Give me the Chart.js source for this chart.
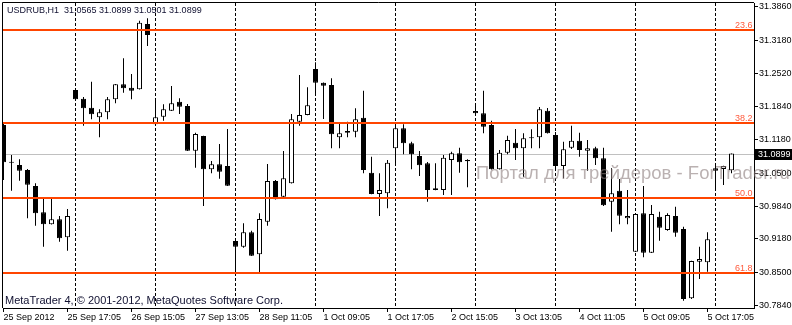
<!DOCTYPE html>
<html><head><meta charset="utf-8">
<script src="https://cdn.jsdelivr.net/npm/chart.js@4.4.0/dist/chart.umd.min.js"></script>
<style>html,body{margin:0;padding:0;background:#fff;overflow:hidden}canvas{display:block}</style>
</head><body>
<canvas id="c" width="792" height="325"></canvas>
<script>
const opens = [31.1475,31.0715,31.0668,31.0568,31.0245,30.9715,30.9473,30.9574,30.9211,31.2181,
31.2005,31.1824,31.1630,31.1731,31.1993,31.2295,31.2227,31.2195,31.3511,31.1489,
31.1642,31.1763,31.1945,31.1858,31.0957,31.1253,31.0582,31.0683,31.0648,30.9136,
30.9021,30.9312,30.8868,30.9525,31.0346,31.0029,31.0299,31.1541,31.1676,31.2604,
31.2328,31.2281,31.1227,31.1354,31.1340,31.1622,31.0513,31.0084,31.0098,31.1005,
31.1408,31.1106,31.0850,31.0703,31.0199,31.0164,31.0769,31.0904,31.0769,31.1757,
31.1711,31.1475,31.0582,31.0916,31.1118,31.1005,31.1207,31.1227,31.1763,31.1273,
31.0648,31.1017,31.1158,31.0957,31.1005,31.0804,30.9929,31.0150,30.9594,30.8920,
30.9695,30.8900,30.9626,30.9358,30.9640,30.9378,30.7981,30.8719,30.8707,31.0602,
31.0588,31.0565];
const highs = [31.1515,31.0870,31.0783,31.0588,31.0299,30.9997,30.9997,30.9640,30.9781,31.2221,
31.2039,31.2348,31.1791,31.2039,31.2301,31.2820,31.2503,31.3578,31.3626,31.1979,
31.1892,31.2261,31.2013,31.1898,31.1320,31.1258,31.0749,31.1092,31.1394,30.9197,
30.9493,30.9344,30.9695,31.0689,31.0366,31.0951,31.1697,31.2483,31.2235,31.2739,
31.2332,31.2416,31.1509,31.1541,31.1812,31.2166,31.0836,31.0501,31.0769,31.1509,
31.1489,31.1138,31.0951,31.0729,31.0703,31.0870,31.0937,31.1017,31.0783,31.1898,
31.2166,31.1562,31.0971,31.1259,31.1394,31.1308,31.1388,31.1838,31.1818,31.1334,
31.1138,31.1461,31.1320,31.1172,31.1037,31.1017,31.0602,31.0386,31.0164,30.9701,
31.0245,30.9862,30.9727,30.9695,30.9828,30.9424,30.8737,30.9021,30.9312,31.0668,
31.0654,31.0899];
const lows = [31.0366,31.0150,31.0352,30.9594,30.9445,30.9021,30.9470,30.9122,30.8941,31.1979,
31.1461,31.1590,31.1227,31.1590,31.1912,31.2126,31.1993,31.2190,31.3068,31.1485,
31.1562,31.1757,31.1697,31.0951,31.0614,30.9842,31.0501,31.0392,31.0246,30.8497,
30.9001,30.8836,30.8497,30.9445,30.9972,31.0003,31.0295,31.1461,31.1672,31.2080,
31.1596,31.1005,31.1005,31.1227,31.1227,31.0501,31.0080,30.9640,30.9795,31.0703,
31.0884,31.0582,31.0447,30.9929,31.0160,31.0064,31.0064,31.0513,31.0219,31.1656,
31.1308,31.0578,31.0578,31.0884,31.0769,31.0433,31.1005,31.1005,31.1304,31.0582,
31.0400,31.0991,31.0836,31.0554,31.0668,30.9842,30.9324,30.9473,30.9473,30.8916,
30.8808,30.8896,30.9142,30.9344,30.9223,30.7933,30.7967,30.8370,30.8517,31.0164,
31.0265,31.0501];
const closes = [31.0723,31.0715,31.0554,31.0271,30.9695,30.9473,30.9574,30.9191,30.9640,31.1993,
31.1812,31.1691,31.1731,31.1993,31.2295,31.2215,31.2166,31.3537,31.3289,31.1630,
31.1791,31.1912,31.1844,31.0957,31.1293,31.0582,31.0683,31.0533,31.0251,30.9021,
30.9312,30.8840,30.9580,31.0346,30.9977,31.0400,31.1590,31.1676,31.1872,31.2328,
31.2267,31.1287,31.1308,31.1320,31.1590,31.0568,31.0084,31.0164,31.0715,31.1408,
31.1106,31.0884,31.0662,31.0164,31.0164,31.0816,31.0904,31.0723,31.0743,31.1711,
31.1441,31.0582,31.0916,31.1172,31.1005,31.1207,31.1209,31.1791,31.1308,31.0648,
31.0985,31.1158,31.0971,31.1005,31.0804,30.9856,31.0098,30.9646,30.9640,30.9681,
30.8900,30.9681,30.9404,30.9660,30.9304,30.7967,30.8733,30.8773,30.9170,31.0554,
31.0648,31.0899];

const tickBars = [0,8,16,24,32,40,48,56,64,72,80,88];
const tickLabels = ['25 Sep 2012','25 Sep 17:05','26 Sep 15:05','27 Sep 13:05','28 Sep 11:05','1 Oct 09:05',
  '1 Oct 17:05','2 Oct 15:05','3 Oct 13:05','4 Oct 11:05','5 Oct 09:05','5 Oct 17:05'];
const yTickValues = [31.386,31.318,31.252,31.184,31.118,31.050,30.984,30.918,30.850,30.784];
const fibValues = [31.3396,31.1525,31.0013,30.8500];
const fibLabels = ['23.6','38.2','50.0','61.8'];
const separatorBars = [9,19,29,39,49,59,69,79,89];
const lastPrice = 31.0899;
const titleText = 'USDRUB,H1  31.0565 31.0899 31.0501 31.0899';
const copyrightText = 'MetaTrader 4, \u00a9 2001-2012, MetaQuotes Software Corp.';
const watermarkText = 'Портал для трейдеров - ForTrader.ru';

const FONT = 'Liberation Sans';
Chart.defaults.font.family = FONT;

const bodyColors = opens.map((o, i) => closes[i] > o ? '#ffffff' : '#000000');

const overlay = {
  id: 'overlay',
  beforeDatasetsDraw(chart) {
    const {ctx, chartArea: a, scales: {x, y}} = chart;
    ctx.save();
    const py = Math.round(y.getPixelForValue(lastPrice)) + 0.5;
    ctx.strokeStyle = '#c0c0c0'; ctx.lineWidth = 1;
    ctx.beginPath(); ctx.moveTo(a.left, py); ctx.lineTo(a.right, py); ctx.stroke();
    ctx.strokeStyle = '#000'; ctx.setLineDash([3, 2]);
    separatorBars.forEach(b => {
      const px = Math.floor(x.getPixelForValue(b)) + 0.5;
      ctx.beginPath(); ctx.moveTo(px, a.top); ctx.lineTo(px, a.bottom); ctx.stroke();
    });
    ctx.restore();
  },
  afterDatasetsDraw(chart) {
    const {ctx, chartArea: a, scales: {y}} = chart;
    ctx.save();
    ctx.beginPath(); ctx.rect(a.left, a.top, a.right - a.left, a.bottom - a.top); ctx.clip();
    ctx.strokeStyle = '#ff4500'; ctx.lineWidth = 2;
    ctx.font = '9px ' + FONT; ctx.fillStyle = '#ff5a3c';
    ctx.textAlign = 'right'; ctx.textBaseline = 'alphabetic';
    fibValues.forEach((v, i) => {
      const py = Math.round(y.getPixelForValue(v));
      ctx.beginPath(); ctx.moveTo(a.left, py); ctx.lineTo(a.right, py); ctx.stroke();
      ctx.fillText(fibLabels[i], a.right - 1.5, py - 2);
    });
    ctx.restore();
    ctx.save();
    ctx.strokeStyle = '#000'; ctx.lineWidth = 1;
    ctx.beginPath();
    ctx.moveTo(a.left - 0.5, a.bottom); ctx.lineTo(a.left - 0.5, a.top - 0.5); ctx.lineTo(a.right, a.top - 0.5);
    ctx.stroke();
    ctx.fillStyle = '#101030';
    ctx.font = '9px ' + FONT; ctx.textAlign = 'left'; ctx.textBaseline = 'middle';
    ctx.fillText(titleText, 7, 11);
    ctx.font = '11px ' + FONT; ctx.textBaseline = 'alphabetic';
    ctx.fillText(copyrightText, 5, 304);
    ctx.restore();
  },
  afterDraw(chart) {
    const {ctx, chartArea: a, scales: {y}} = chart;
    ctx.save();
    const py = Math.round(y.getPixelForValue(lastPrice));
    ctx.fillStyle = '#000';
    ctx.fillRect(a.right + 1, py - 5, chart.width - a.right - 1, 11);
    ctx.fillStyle = '#fff'; ctx.font = '9px ' + FONT;
    ctx.textAlign = 'left'; ctx.textBaseline = 'middle';
    ctx.fillText(lastPrice.toFixed(4), a.right + 4, py + 0.5);
    ctx.font = '16px ' + FONT;
    const w = ctx.measureText(watermarkText).width;
    const size = 16 * 314 / w;
    ctx.font = size.toFixed(2) + 'px ' + FONT;
    ctx.fillStyle = 'rgba(140,125,125,0.6)';
    ctx.textBaseline = 'alphabetic';
    ctx.fillText(watermarkText, 476, 179);
    ctx.restore();
  }
};

new Chart(document.getElementById('c'), {
  type: 'bar',
  data: {
    datasets: [
      { label: 'body', data: opens.map((o, i) => ({x: i, y: [o, closes[i]]})),
        backgroundColor: bodyColors, borderColor: '#000', borderWidth: 1, borderSkipped: false,
        grouped: false, barThickness: 5, maxBarThickness: 5, inflateAmount: 0, minBarLength: 1 },
      { label: 'wick', data: opens.map((o, i) => ({x: i, y: [lows[i], highs[i]]})),
        backgroundColor: '#000', borderWidth: 0, grouped: false,
        barThickness: 1, maxBarThickness: 1, inflateAmount: 0, minBarLength: 1 }
    ]
  },
  options: {
    responsive: false, animation: false, devicePixelRatio: 1, events: [],
    layout: { padding: { left: 3, top: 3, right: 0, bottom: 0 } },
    plugins: { legend: { display: false }, tooltip: { enabled: false } },
    scales: {
      x: {
        type: 'linear', min: -0.0625, max: 93.8125, offset: false,
        afterBuildTicks: s => { s.ticks = tickBars.map(v => ({value: v})); },
        afterFit: s => { s.height = 17; s.paddingLeft = 0; s.paddingRight = 0; },
        ticks: { autoSkip: false, maxRotation: 0, minRotation: 0, align: 'start', padding: 0,
          color: '#000', font: { family: FONT, size: 9 },
          callback: (v, i) => tickLabels[i] },
        grid: { offset: false, drawOnChartArea: false, drawTicks: true, tickLength: 4, color: '#000' },
        border: { display: true, color: '#000', width: 1 }
      },
      y: {
        type: 'linear', position: 'right', min: 30.7785, max: 31.3935,
        afterBuildTicks: s => { s.ticks = yTickValues.map(v => ({value: v})); },
        afterFit: s => { s.width = 38; s.paddingTop = 0; s.paddingBottom = 0; },
        ticks: { autoSkip: false, crossAlign: 'near', padding: 1, color: '#000',
          font: { family: FONT, size: 9 }, callback: v => Number(v).toFixed(4) },
        grid: { drawOnChartArea: false, drawTicks: true, tickLength: 4, color: '#000' },
        border: { display: true, color: '#000', width: 1 }
      }
    }
  },
  plugins: [overlay]
});
</script>
</body></html>
